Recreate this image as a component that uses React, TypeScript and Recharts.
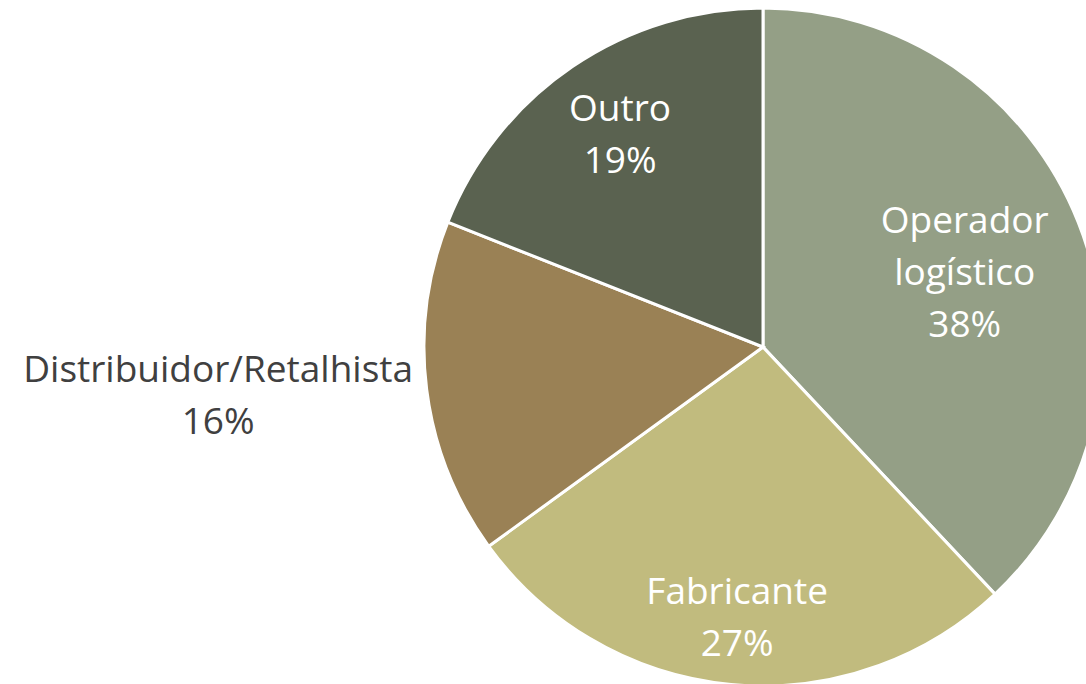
import React from "react";
import { PieChart, Pie, Cell } from "recharts";

const categories = ["Operador logístico", "Fabricante", "Distribuidor/Retalhista", "Outro"];
const shares = [38, 27, 16, 19];
const colors = ["#949F86", "#C1BB7E", "#9A8155", "#5A6250"];

// label lines (category split for wrapping)
const labelLines = [["Operador", "logístico"], ["Fabricante"], ["Distribuidor/Retalhista"], ["Outro"]];

const data = categories.map((name, i) => ({ name, value: shares[i] }));

const RADIAN = Math.PI / 180;
const FONT = 37;
const LINE_H = 52;

// radius factors for label placement (x and y separately for the outside one)
const labelPlace = [
  { rx: 0.64, ry: 0.6, fill: "#FFFFFF" },
  { rx: 0.81, ry: 0.8, fill: "#FFFFFF" },
  { rx: 1.62, ry: 1.12, fill: "#404040" },
  { rx: 0.75, ry: 0.76, fill: "#FFFFFF" },
];

const renderLabel = (props: any) => {
  const { cx, cy, midAngle, outerRadius, index, value } = props;
  const p = labelPlace[index];
  const x = cx + outerRadius * p.rx * Math.cos(-midAngle * RADIAN);
  const y = cy + outerRadius * p.ry * Math.sin(-midAngle * RADIAN);
  const lines = [...labelLines[index], value + "%"];
  const top = y - ((lines.length - 1) * LINE_H) / 2 + FONT * 0.35;
  return (
    <text
      x={x}
      y={top}
      textAnchor="middle"
      fill={p.fill}
      fontSize={FONT}
      fontFamily="'Open Sans', 'Noto Sans', sans-serif"
    >
      {lines.map((l, i) => (
        <tspan key={i} x={x} y={top + i * LINE_H}>
          {l}
        </tspan>
      ))}
    </text>
  );
};

const App = () => {
  return (
    <div style={{ position: "absolute", left: 0, top: 0, width: 1086, height: 684, background: "#fff" }}>
      <PieChart width={1086} height={684} margin={{ top: 0, right: 0, bottom: 0, left: 0 }}>
        <Pie
          data={data}
          dataKey="value"
          nameKey="name"
          cx={763}
          cy={347}
          outerRadius={339}
          startAngle={90}
          endAngle={-270}
          stroke="#FFFFFF"
          strokeWidth={3}
          label={renderLabel}
          labelLine={false}
          isAnimationActive={false}
        >
          {data.map((d, i) => (
            <Cell key={d.name} fill={colors[i]} />
          ))}
        </Pie>
      </PieChart>
    </div>
  );
};

export default App;
